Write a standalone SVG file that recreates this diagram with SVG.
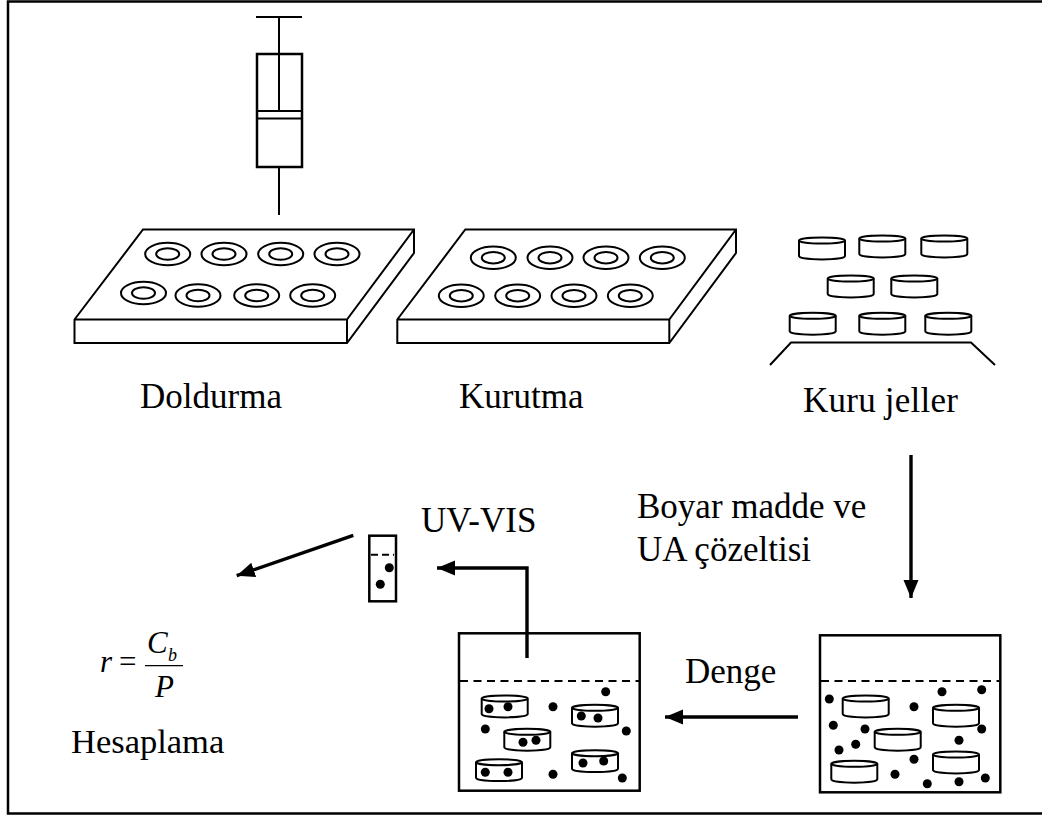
<svg xmlns="http://www.w3.org/2000/svg" width="1042" height="815" viewBox="0 0 1042 815">
<style>
.l{fill:none;stroke:#000;stroke-width:2}
.b{fill:none;stroke:#000;stroke-width:2.5}
.a{fill:none;stroke:#000;stroke-width:3.4}
.d{stroke:#000;stroke-width:2;stroke-dasharray:8 5.500;fill:none}
.t{font-family:"Liberation Serif","Times New Roman",serif;font-size:35px;fill:#000}
.i{font-family:"Liberation Serif","Times New Roman",serif;font-style:italic;fill:#000}
</style>
<defs>
<g id="disc"><ellipse class="l" cx="23" cy="3.500" rx="23" ry="3"/><path class="l" d="M0 3.500V19C0 23.500 46 23.500 46 19V3.500"/></g>
<g id="ring"><ellipse class="l" rx="22.500" ry="11.200"/><ellipse class="l" rx="11.500" ry="5.700"/></g>
<circle id="dot" r="4.500" fill="#000"/>
<marker id="ah" markerUnits="userSpaceOnUse" markerWidth="20" markerHeight="16" refX="18" refY="8" orient="auto"><path d="M0 0.500L18 8L0 15.500Z" fill="#000"/></marker>
</defs>
<rect width="1042" height="815" fill="#fff"/>
<rect id="frame" x="8" y="1.500" width="1040" height="812" class="b"/>
<g id="syringe">
<path class="l" d="M256 17H302M279 17V111M279 167V215"/>
<rect class="b" x="257" y="54" width="45" height="113"/>
<path class="l" d="M257 111H302M257 118.500H302"/>
</g>
<g id="plate1">
<path class="l" d="M74.500 319.500L143 229.500H414V253L347 343H74.500ZM74.500 319.500H347V343M347 319.500L414 229.500"/>
<use href="#ring" x="167.700" y="254"/><use href="#ring" x="224" y="254"/><use href="#ring" x="280.700" y="254"/><use href="#ring" x="337" y="254"/>
<use href="#ring" x="143.500" y="293"/><use href="#ring" x="198" y="295.500"/><use href="#ring" x="256.700" y="295.500"/><use href="#ring" x="312.700" y="295.500"/>
</g>
<g id="plate2">
<path class="l" d="M397.300 319.500L465.300 229.500H736V253L669.300 343H397.300ZM397.300 319.500H669.300V343M669.300 319.500L736 229.500"/>
<use href="#ring" x="493.300" y="257.700"/><use href="#ring" x="550" y="257.700"/><use href="#ring" x="606" y="257.700"/><use href="#ring" x="662.300" y="257.700"/>
<use href="#ring" x="461.300" y="295.700"/><use href="#ring" x="517.700" y="295.700"/><use href="#ring" x="574" y="295.700"/><use href="#ring" x="630.300" y="295.700"/>
</g>
<g id="dry-gels">
<use href="#disc" x="799" y="237"/><use href="#disc" x="859.300" y="235"/><use href="#disc" x="921.300" y="235"/>
<use href="#disc" x="827.700" y="275"/><use href="#disc" x="891.300" y="275"/>
<use href="#disc" x="789.700" y="312.300"/><use href="#disc" x="859.300" y="312.300"/><use href="#disc" x="925.300" y="312.300"/>
<path class="l" d="M770 365L791 342.500H971L995 365"/>
</g>
<g id="beaker1">
<rect class="b" x="459" y="633.300" width="180.700" height="157.400"/>
<path class="d" d="M460 681H639"/>
<use href="#disc" x="481.700" y="695"/><use href="#disc" x="572" y="704.300"/><use href="#disc" x="504.300" y="728.300"/><use href="#disc" x="572" y="749.700"/><use href="#disc" x="476" y="758.700"/>
<use href="#dot" x="605.700" y="691.700"/><use href="#dot" x="553" y="706.700"/><use href="#dot" x="626.300" y="731"/><use href="#dot" x="485.300" y="729"/><use href="#dot" x="553" y="774.300"/><use href="#dot" x="622.300" y="778"/>
<use href="#dot" x="489" y="708.700"/><use href="#dot" x="508" y="706.700"/><use href="#dot" x="581.300" y="716"/><use href="#dot" x="598" y="718"/><use href="#dot" x="523" y="742.300"/><use href="#dot" x="536" y="740.300"/><use href="#dot" x="583" y="763"/><use href="#dot" x="603.700" y="761"/><use href="#dot" x="485.300" y="772.300"/><use href="#dot" x="508" y="772.300"/>
</g>
<g id="beaker2">
<rect class="b" x="820" y="635.300" width="180.300" height="157"/>
<path class="d" d="M821 681H999"/>
<use href="#disc" x="842.700" y="695"/><use href="#disc" x="933" y="704.300"/><use href="#disc" x="874.700" y="728.300"/><use href="#disc" x="933" y="751"/><use href="#disc" x="831.300" y="760.300"/>
<use href="#dot" x="829.300" y="699"/><use href="#dot" x="942" y="691.700"/><use href="#dot" x="981.700" y="689.700"/><use href="#dot" x="914" y="706.700"/><use href="#dot" x="833.300" y="725.300"/><use href="#dot" x="865" y="729"/><use href="#dot" x="981.700" y="729"/><use href="#dot" x="959" y="740.300"/><use href="#dot" x="855.700" y="744.300"/><use href="#dot" x="839" y="750"/><use href="#dot" x="914" y="759.300"/><use href="#dot" x="895" y="774.300"/><use href="#dot" x="927.300" y="783.700"/><use href="#dot" x="959" y="781.700"/><use href="#dot" x="985.300" y="778"/>
</g>
<g id="cuvette">
<rect class="b" x="369.300" y="535.700" width="26.700" height="65.600"/>
<path class="l" stroke-dasharray="7 4" d="M371 554.700H394"/>
<use href="#dot" x="389.300" y="567.700"/><use href="#dot" x="380.300" y="584.300"/>
</g>
<g id="connectors">
<path class="a" marker-end="url(#ah)" d="M911 455V598"/>
<path class="a" marker-end="url(#ah)" d="M798 717H665"/>
<path class="a" marker-end="url(#ah)" d="M527 658V568H437"/>
<path class="a" marker-end="url(#ah)" d="M353.300 535.300L236.700 575.700"/>
</g>
<g id="labels">
<text class="t" x="140" y="408">Doldurma</text>
<text class="t" x="459" y="408">Kurutma</text>
<text class="t" x="803" y="412" textLength="155">Kuru jeller</text>
<text class="t" x="637" y="518">Boyar madde ve</text>
<text class="t" x="637" y="560.500">UA çözeltisi</text>
<text class="t" x="421" y="531.500">UV-VIS</text>
<text class="t" x="685" y="683">Denge</text>
<text class="t" x="71" y="752.500" style="font-size:34.500px">Hesaplama</text>
</g>
<g id="formula">
<text class="i" x="100" y="672" font-size="31">r</text>
<text x="119" y="672" font-size="31" font-family="Liberation Serif,serif">=</text>
<text class="i" x="147" y="653" font-size="31">C</text>
<text class="i" x="168" y="660.700" font-size="18">b</text>
<path d="M145 665.700H183" stroke="#000" stroke-width="1.200"/>
<text class="i" x="155" y="696.700" font-size="31">P</text>
</g>
</svg>
